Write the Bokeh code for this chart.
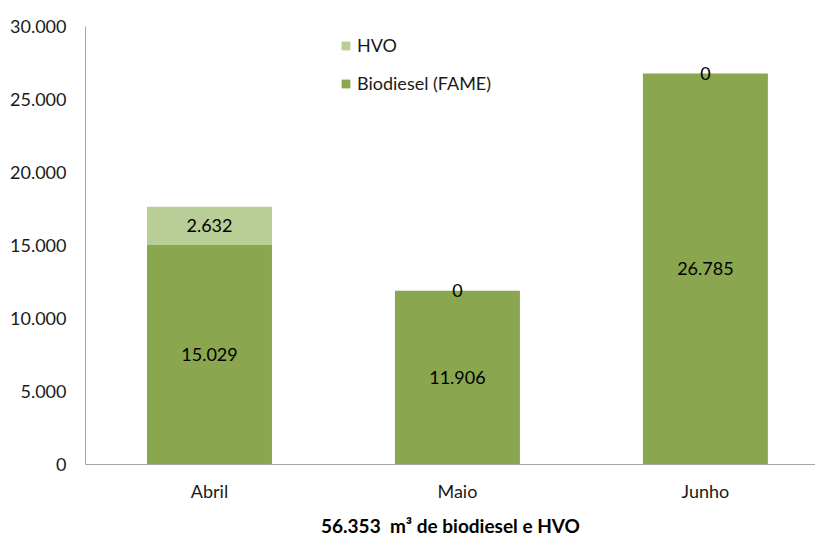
from bokeh.plotting import figure
from bokeh.models import Range1d, FixedTicker, Legend, LegendItem, ColumnDataSource
from bokeh.core.properties import value
from bokeh.embed import file_html
from bokeh.resources import INLINE

months = ["Abril", "Maio", "Junho"]
fame = [15029, 11906, 26785]
hvo = [2632, 0, 0]
fame_labels = ["15.029", "11.906", "26.785"]
hvo_labels = ["2.632", "0", "0"]
y_ticks = [0, 5000, 10000, 15000, 20000, 25000, 30000]
y_tick_labels = ["0", "5.000", "10.000", "15.000", "20.000", "25.000", "30.000"]
title_text = "56.353\u00a0\u00a0m\u00b3 de biodiesel e HVO"

C_FAME = "#8AA64E"
C_HVO = "#B9CE96"
FONT = "Lato"
FS = "18px"

xs = [i + 0.5 for i in range(len(months))]
totals = [f + h for f, h in zip(fame, hvo)]

src = ColumnDataSource(dict(
    x=xs, fame=fame, hvo_top=totals,
    fame_mid=[f / 2 for f in fame],
    hvo_mid=[f + h / 2 for f, h in zip(fame, hvo)],
    fame_lab=fame_labels, hvo_lab=hvo_labels,
))

p = figure(width=815, height=539, output_backend="svg", toolbar_location=None,
           x_range=Range1d(0, 2.944), y_range=Range1d(0, 30000),
           min_border_left=85, min_border_right=0, min_border_top=26, min_border_bottom=74)
p.outline_line_color = None
p.grid.visible = False
p.background_fill_color = "white"
p.border_fill_color = "white"

r_fame = p.vbar(x="x", width=0.504, bottom=0, top="fame", fill_color=C_FAME,
                line_color=None, source=src)
r_hvo = p.vbar(x="x", width=0.504, bottom="fame", top="hvo_top", fill_color=C_HVO,
               line_color=None, source=src)

p.text(x="x", y="fame_mid", text="fame_lab", source=src, text_align="center",
       text_baseline="middle", text_font=value(FONT), text_font_size=FS, text_color="black")
p.text(x="x", y="hvo_mid", text="hvo_lab", source=src, text_align="center",
       text_baseline="middle", text_font=value(FONT), text_font_size=FS, text_color="black")

p.xaxis.ticker = FixedTicker(ticks=xs)
p.xaxis.major_label_overrides = {x: m for x, m in zip(xs, months)}
p.yaxis.ticker = FixedTicker(ticks=y_ticks)
p.yaxis.major_label_overrides = {t: l for t, l in zip(y_ticks, y_tick_labels)}
for ax in (p.xaxis, p.yaxis):
    ax.major_tick_in = 0
    ax.major_tick_out = 0
    ax.minor_tick_in = 0
    ax.minor_tick_out = 0
    ax.axis_line_color = "#A6A6A6"
    ax.major_label_text_font = FONT
    ax.major_label_text_font_size = FS
    ax.major_label_text_color = "#1a1a1a"
p.yaxis.major_label_standoff = 19
p.xaxis.major_label_standoff = 15

p.xaxis.axis_label = title_text
p.xaxis.axis_label_standoff = 9
p.xaxis.axis_label_text_font = FONT
p.xaxis.axis_label_text_font_size = "19px"
p.xaxis.axis_label_text_font_style = "bold"
p.xaxis.axis_label_text_color = "black"

legend = Legend(items=[LegendItem(label="HVO", renderers=[r_hvo]),
                       LegendItem(label="Biodiesel (FAME)", renderers=[r_fame])],
                location=(255, 370), orientation="vertical",
                border_line_color=None, background_fill_alpha=0,
                padding=0, margin=0, spacing=16,
                glyph_width=11, glyph_height=11, label_standoff=6,
                label_text_font=FONT, label_text_font_size=FS, label_text_color="#1a1a1a")
p.add_layout(legend, "center")

open("out.html", "w").write(file_html(p, INLINE))
